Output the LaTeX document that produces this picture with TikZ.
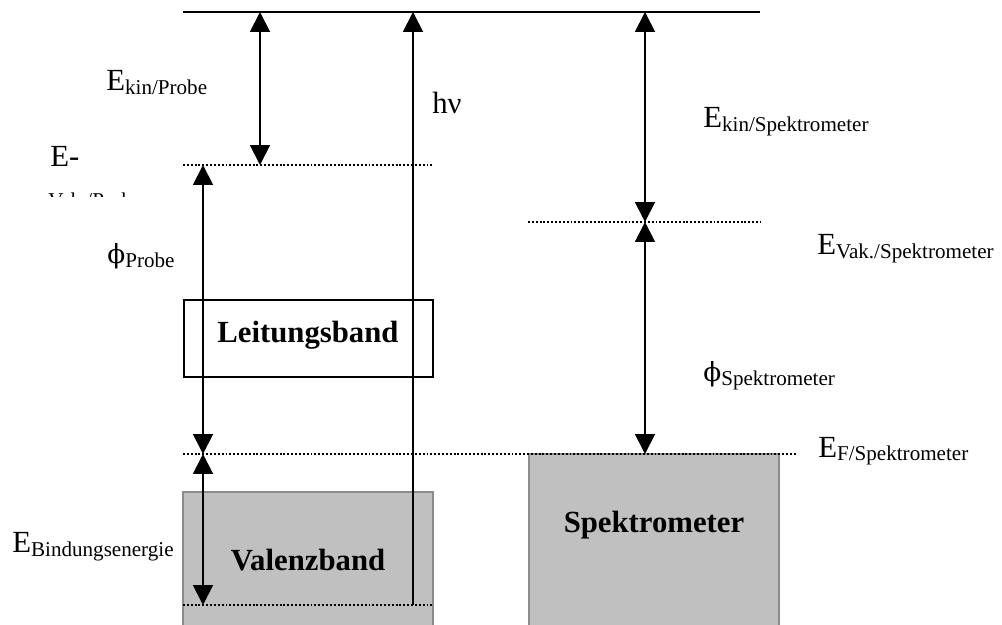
\documentclass[tikz,border=0pt]{standalone}
\usepackage{fontspec}
\setmainfont{Liberation Serif}
\newfontfamily\grkfont{DejaVu Serif}
\usetikzlibrary{arrows.meta}
\definecolor{bandgray}{HTML}{C0C0C0}
\definecolor{bandedge}{HTML}{8C8C8C}
\newcommand\lsub[1]{\raisebox{-.08cm}{\fontsize{12}{14}\selectfont #1}}
\newcommand\workfn{{\grkfont\fontsize{15}{18}\selectfont ϕ}}

\begin{document}
\begin{tikzpicture}[x=.02cm,y=-.02cm,>={Triangle[length=.4cm,width=.4cm]},
  every node/.style={inner sep=0pt,font=\fontsize{17.5}{21}\selectfont},
  lbl/.style={anchor=base west},
  bandlbl/.style={anchor=base,font=\fontsize{17.5}{21}\selectfont\bfseries},
  level/.style={line width=.6pt,dash pattern=on 1.1pt off 1.1pt},
  gap/.style={line width=1.1pt,<->},
  band/.style={fill=bandgray,draw=bandedge,line width=1.2pt}]
\clip (0,0) rectangle (1002,625);

% baender
\draw[band] (183,492) rectangle (433,640);
\draw[band] (529,454) rectangle (779,640);
\draw[line width=.8pt] (184,300) rectangle (433,377);
\node[bandlbl] (leit) at (308,342) {Leitungsband};
\node[bandlbl] (valenz) at (308,570) {Valenzband};
\node[bandlbl] (spek) at (654,532) {Spektrometer};

% niveaus
\draw[line width=1.1pt] (183,12) -- (760,12);
\draw[level] (183,165) -- (432,165);
\draw[level] (528,222) -- (760,222);
\draw[level] (183,454) -- (797,454);
\draw[level] (183,605) -- (432,605);

\coordinate (kinP-top) at (260,12);  \coordinate (kinP-bot) at (260,165);
\coordinate (phiP-top) at (203,165); \coordinate (fermiP) at (203,454);
\coordinate (bindP) at (203,605);
\coordinate (hv-top) at (413,12);    \coordinate (hv-bot) at (413,605);
\coordinate (kinS-top) at (645,12);  \coordinate (vakS) at (645,222);
\coordinate (fermiS) at (645,454);

% energien
\draw[gap] (kinP-top) -- (kinP-bot);
\draw[gap] (phiP-top) -- (fermiP);
\draw[gap] (fermiP) -- (bindP);
\draw[line width=1.1pt,->] (hv-bot) -- (hv-top);
\draw[gap] (kinS-top) -- (vakS);
\draw[gap] (vakS) -- (fermiS);

\node[lbl] (ekinp) at (106,91) {E\lsub{kin/Probe}};
\node[lbl] (hnu) at (432,114) {hν};
\node[lbl] (evakp) at (50,167) {E-};
\begin{scope}
  \clip (40,192.5) rectangle (170,196.5);
  \node[lbl,font=\fontsize{12}{14}\selectfont] (vakp) at (48,208) {Vak./Probe};
\end{scope}
\node[lbl] (phip) at (107,264) {\workfn\lsub{Probe}};
\node[lbl] (ebind) at (12,552) {E\lsub{Bindungsenergie}};
\node[lbl] (ekins) at (703,128) {E\lsub{kin/Spektrometer}};
\node[lbl] (evaks) at (817,255) {E\lsub{Vak./Spektrometer}};
\node[lbl] (phis) at (703,381) {\workfn\lsub{Spektrometer}};
\node[lbl] (efs) at (818,457) {E\lsub{F/Spektrometer}};
\end{tikzpicture}
\end{document}
